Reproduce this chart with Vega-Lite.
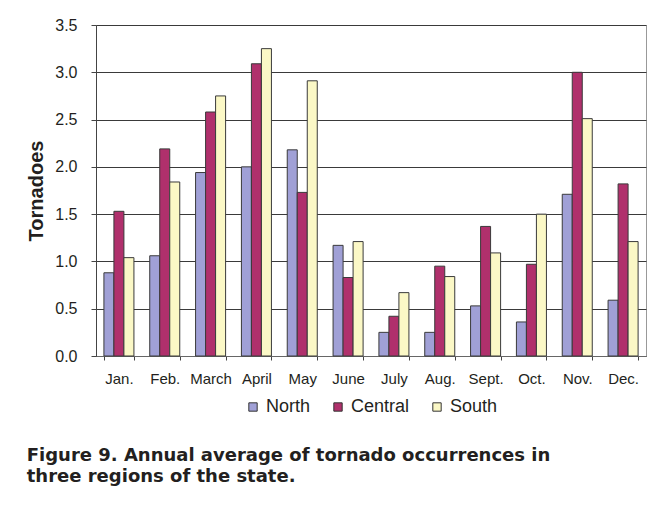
{
  "$schema": "https://vega.github.io/schema/vega-lite/v6.json",
  "width": 550,
  "height": 331,
  "padding": {"left": 26, "top": 17, "right": 13, "bottom": 10},
  "background": "white",
  "title": {
    "text": ["Figure 9. Annual average of tornado occurrences in", "three regions of the state."],
    "orient": "bottom",
    "anchor": "start",
    "frame": "bounds",
    "font": "DejaVu Sans",
    "fontWeight": "bold",
    "fontSize": 18,
    "lineHeight": 21,
    "color": "#231f20",
    "offset": 31
  },
  "data": {
    "values": [
      {"month": "Jan.", "region": "North", "value": 0.88},
      {"month": "Jan.", "region": "Central", "value": 1.53},
      {"month": "Jan.", "region": "South", "value": 1.04},
      {"month": "Feb.", "region": "North", "value": 1.06},
      {"month": "Feb.", "region": "Central", "value": 2.19},
      {"month": "Feb.", "region": "South", "value": 1.84},
      {"month": "March", "region": "North", "value": 1.94},
      {"month": "March", "region": "Central", "value": 2.58},
      {"month": "March", "region": "South", "value": 2.75},
      {"month": "April", "region": "North", "value": 2.0},
      {"month": "April", "region": "Central", "value": 3.09},
      {"month": "April", "region": "South", "value": 3.25},
      {"month": "May", "region": "North", "value": 2.18},
      {"month": "May", "region": "Central", "value": 1.73},
      {"month": "May", "region": "South", "value": 2.91},
      {"month": "June", "region": "North", "value": 1.17},
      {"month": "June", "region": "Central", "value": 0.83},
      {"month": "June", "region": "South", "value": 1.21},
      {"month": "July", "region": "North", "value": 0.25},
      {"month": "July", "region": "Central", "value": 0.42},
      {"month": "July", "region": "South", "value": 0.67},
      {"month": "Aug.", "region": "North", "value": 0.25},
      {"month": "Aug.", "region": "Central", "value": 0.95},
      {"month": "Aug.", "region": "South", "value": 0.84},
      {"month": "Sept.", "region": "North", "value": 0.53},
      {"month": "Sept.", "region": "Central", "value": 1.37},
      {"month": "Sept.", "region": "South", "value": 1.09},
      {"month": "Oct.", "region": "North", "value": 0.36},
      {"month": "Oct.", "region": "Central", "value": 0.97},
      {"month": "Oct.", "region": "South", "value": 1.5},
      {"month": "Nov.", "region": "North", "value": 1.71},
      {"month": "Nov.", "region": "Central", "value": 3.0},
      {"month": "Nov.", "region": "South", "value": 2.51},
      {"month": "Dec.", "region": "North", "value": 0.59},
      {"month": "Dec.", "region": "Central", "value": 1.82},
      {"month": "Dec.", "region": "South", "value": 1.21}
    ]
  },
  "mark": {"type": "bar", "stroke": "#3a3a3a", "strokeWidth": 1},
  "encoding": {
    "x": {
      "field": "month",
      "type": "nominal",
      "sort": null,
      "scale": {"paddingInner": 0.345, "paddingOuter": 0.1725},
      "axis": {
        "title": null,
        "labelAngle": 0,
        "labelFont": "Liberation Sans",
        "labelFontSize": 15,
        "labelColor": "#231f20",
        "labelPadding": 11,
        "tickBand": "extent",
        "tickSize": 4,
        "tickColor": "#444",
        "domainColor": "#666",
        "grid": false
      }
    },
    "xOffset": {"field": "region", "type": "nominal", "sort": ["North", "Central", "South"], "scale": {"paddingInner": 0, "paddingOuter": 0}},
    "y": {
      "field": "value",
      "type": "quantitative",
      "scale": {"domain": [0, 3.5], "nice": false},
      "axis": {
        "title": "Tornadoes",
        "titleFont": "Liberation Sans",
        "titleFontWeight": "bold",
        "titleFontSize": 20,
        "titleColor": "#231f20",
        "titlePadding": 8,
        "values": [0, 0.5, 1, 1.5, 2, 2.5, 3, 3.5],
        "format": ".1f",
        "labelFont": "Liberation Sans",
        "labelFontSize": 16,
        "labelColor": "#231f20",
        "labelPadding": 14,
        "tickSize": 5,
        "tickColor": "#444",
        "domainColor": "#444",
        "grid": true,
        "gridColor": "#3a3a3a",
        "gridWidth": 1
      }
    },
    "color": {
      "field": "region",
      "type": "nominal",
      "sort": ["North", "Central", "South"],
      "scale": {"domain": ["North", "Central", "South"], "range": ["#a0a0d6", "#b0306c", "#fbf8c6"]},
      "legend": {
        "title": null,
        "orient": "bottom",
        "direction": "horizontal",
        "symbolType": "square",
        "symbolSize": 70,
        "symbolStrokeColor": "#333",
        "symbolStrokeWidth": 1,
        "labelFont": "Liberation Sans",
        "labelFontSize": 18,
        "labelColor": "#231f20",
        "labelOffset": 4,
        "columnPadding": 18,
        "offset": 12
      }
    }
  },
  "config": {
    "view": {"stroke": "#999", "strokeWidth": 1},
    "legend": {"layout": {"bottom": {"anchor": "middle"}}}
  }
}
